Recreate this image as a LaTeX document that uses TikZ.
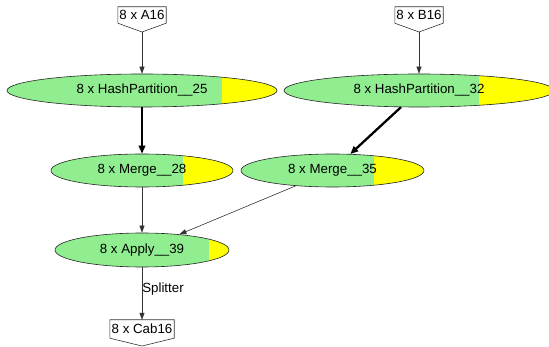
\documentclass[tikz,border=0pt]{standalone}
\usepackage{fontspec}
\setmainfont{Liberation Sans}
\usetikzlibrary{shapes.geometric,arrows.meta,calc}
\definecolor{lgreen}{HTML}{90EE90}
\definecolor{hotpart}{HTML}{FFFF00}
\begin{document}
\begin{tikzpicture}[x=1pt,y=-1pt,
  font=\fontsize{13.3}{15}\selectfont,
  task/.style={ellipse, draw=black!85, line width=0.6pt, fill=lgreen, inner sep=0pt,
    minimum height=33pt,
    path picture={\fill[hotpart] ($(path picture bounding box.south west)!#1!(path picture bounding box.south east)$)
      rectangle (path picture bounding box.north east);}},
  port/.style={inner sep=0pt, minimum height=16pt},
  portline/.style={draw=black!80, line width=0.6pt},
  flow/.style={draw=black!80, line width=0.6pt, -{Triangle[length=7pt,width=5pt]}},
  heavy/.style={draw=black, line width=2.3pt, -{Triangle[length=8pt,width=6.5pt]}}]
\useasboundingbox (0,0) rectangle (549,347);
\clip (0,0) rectangle (549,347);

% source and sink ports
\node[port, minimum width=48pt] (a16) at (142,15) {8 x A16};
\coordinate (a16tip) at (142,32);
\path[portline] (a16.north west) -- (a16.north east) -- (a16.south east) -- (a16tip) -- (a16.south west) -- cycle;

\node[port, minimum width=48pt] (b16) at (419,15) {8 x B16};
\coordinate (b16tip) at (419,32);
\path[portline] (b16.north west) -- (b16.north east) -- (b16.south east) -- (b16tip) -- (b16.south west) -- cycle;

\node[port, minimum width=64pt, minimum height=18pt] (cab16) at (142,329) {8 x Cab16};
\coordinate (cab16tip) at (142,346);
\path[portline] (cab16.north west) -- (cab16.north east) -- (cab16.south east) -- (cab16tip) -- (cab16.south west) -- cycle;

% tasks
\node[task=0.796, minimum width=270pt] (hp25) at (142,90.5) {8 x HashPartition\_\_25};
\node[task=0.722, minimum width=270pt] (hp32) at (419,90.5) {8 x HashPartition\_\_32};
\node[task=0.725, minimum width=182pt] (m28) at (142,170.5) {8 x Merge\_\_28};
\node[task=0.727, minimum width=183pt] (m35) at (332.5,170.5) {8 x Merge\_\_35};
\node[task=0.885, minimum width=174pt, minimum height=34pt] (ap39) at (142,250) {8 x Apply\_\_39};

% connections
\draw[flow] (a16tip) -- (hp25.north);
\draw[flow] (b16tip) -- (hp32.north);
\draw[heavy] (hp25.south) -- (m28.north);
\draw[heavy] (hp32) -- (m35);
\draw[flow] (m28.south) -- (ap39.north);
\draw[flow] (m35) -- (ap39);
\draw[flow] (ap39.south) -- node[right=0pt, inner sep=0pt, pos=0.42] (split) {Splitter} (cab16.north);
\end{tikzpicture}
\end{document}
